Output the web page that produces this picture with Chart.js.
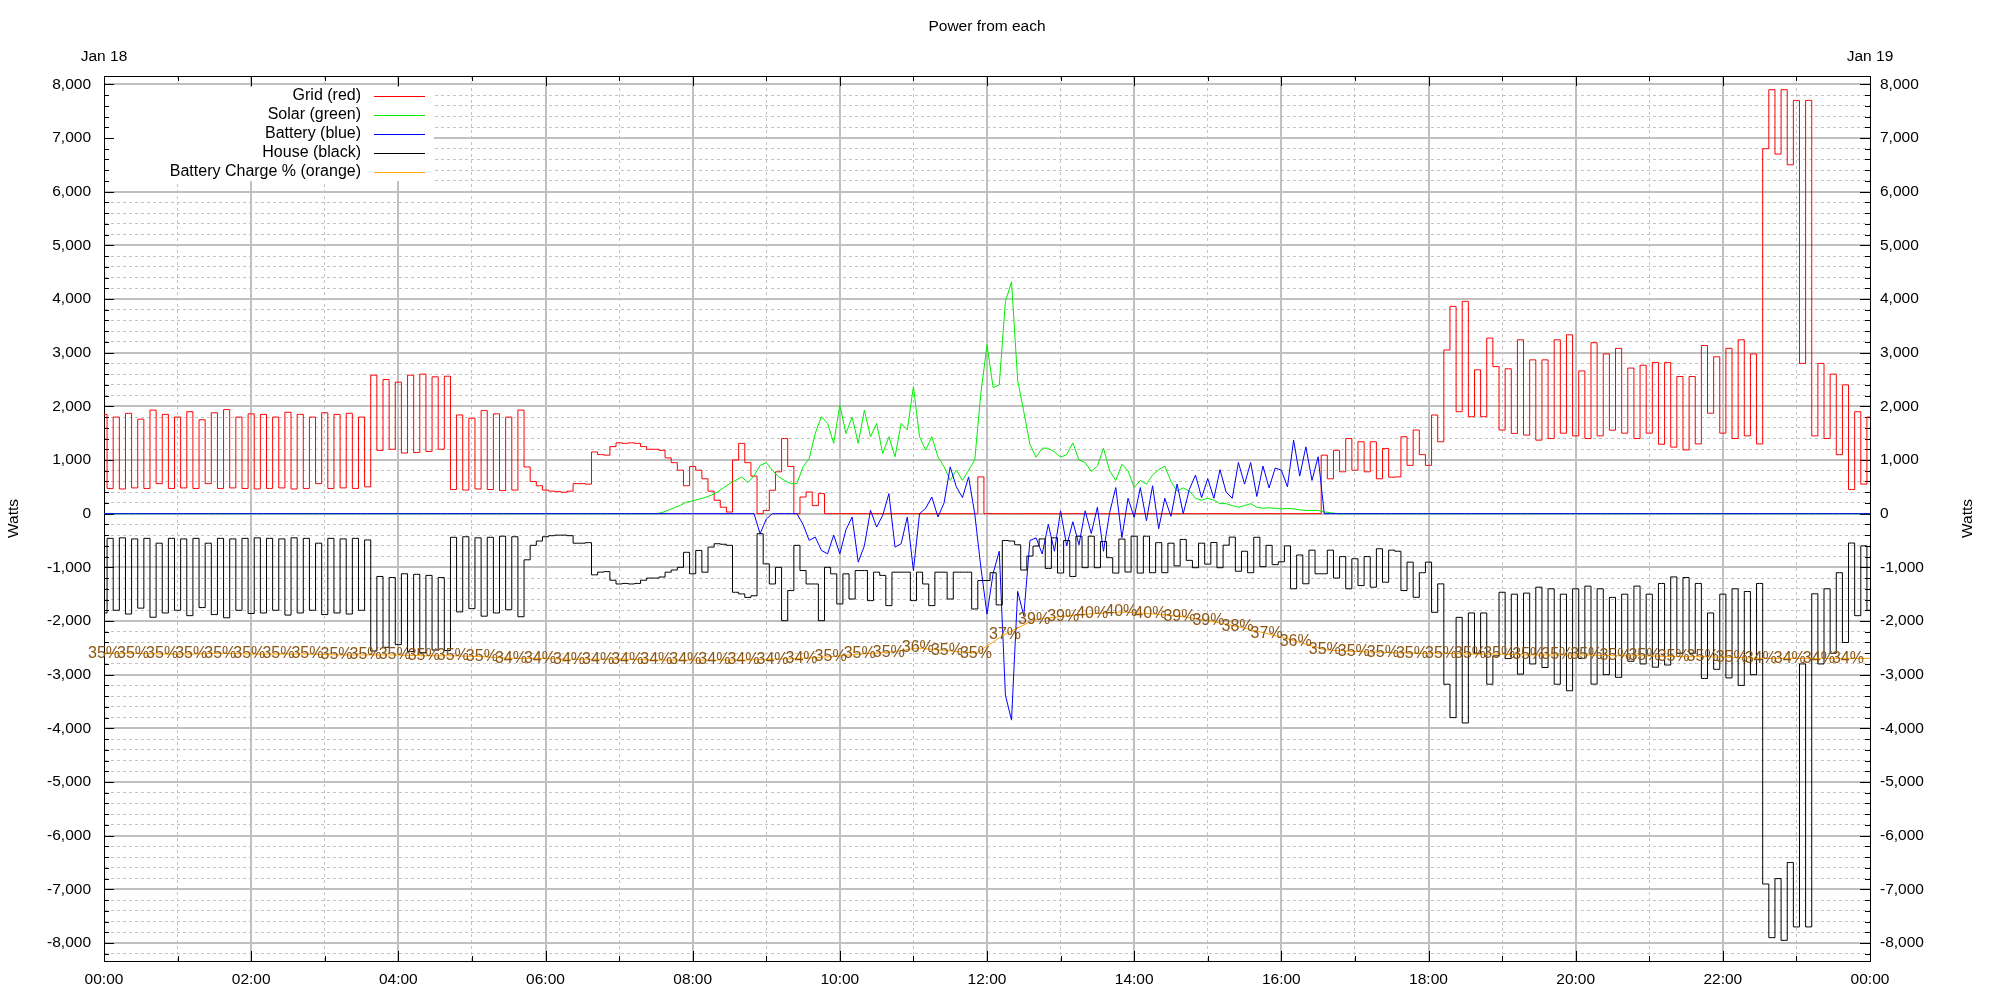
<!DOCTYPE html>
<html>
<head>
<meta charset="utf-8">
<title>Power from each</title>
<script src="https://cdn.jsdelivr.net/npm/chart.js@4/dist/chart.umd.min.js"></script>
<style>
  html, body { margin: 0; padding: 0; background: #fff; }
  canvas { display: block; }
</style>
</head>
<body>
<canvas id="myChart" width="2000" height="1000"></canvas>
<script>
// Power readings, one every 5 minutes from 00:00 Jan 18 to 00:00 Jan 19
// (one row per hour, last value is midnight)
const stepMin = 5

const gridW = [
  1850, 470, 1800, 460, 1870, 480, 1760, 470, 1930, 560, 1850, 470,
  1800, 480, 1900, 470, 1750, 560, 1880, 470, 1940, 480, 1800, 470,
  1860, 460, 1850, 470, 1800, 480, 1890, 460, 1850, 470, 1800, 560,
  1880, 470, 1850, 480, 1870, 470, 1800, 500, 2580, 1180, 2500, 1200,
  2450, 1130, 2580, 1140, 2600, 1160, 2550, 1200, 2560, 450, 1840, 440,
  1780, 460, 1920, 450, 1860, 430, 1800, 440, 1930, 870, 600, 520,
  440, 420, 410, 400, 420, 560, 560, 550, 1150, 1100, 1090, 1250,
  1320, 1310, 1320, 1310, 1250, 1200, 1200, 1180, 1040, 950, 810, 520,
  880, 810, 650, 420, 250, 120, 30, 1000, 1310, 950, 700, 0,
  60, 436, 780, 1400, 880, 0, 310, 405, 150, 374, 0, 0,
  0, 0, 0, 0, 0, 0, 0, 0, 0, 0, 0, 0,
  0, 0, 0, 0, 0, 0, 0, 0, 0, 0, 0, 685,
  0, 0, 0, 0, 0, 0, 0, 0, 0, 0, 0, 0,
  0, 0, 0, 0, 0, 0, 0, 0, 0, 0, 0, 0,
  0, 0, 0, 0, 0, 0, 0, 0, 0, 0, 0, 0,
  0, 0, 0, 0, 0, 0, 0, 0, 0, 0, 0, 0,
  0, 0, 0, 0, 0, 0, 0, 1090, 650, 1180, 780, 1400,
  810, 1340, 780, 1340, 650, 1215, 680, 685, 1433, 900, 1558, 1100,
  900, 1838, 1340, 3050, 3863, 1900, 3956, 1807, 2680, 1807, 3271, 2740,
  1558, 2700, 1495, 3240, 1464, 2866, 1370, 2866, 1400, 3240, 1500, 3333,
  1450, 2660, 1400, 3186, 1450, 2976, 1556, 3080, 1500, 2713, 1400, 2765,
  1500, 2818, 1293, 2818, 1240, 2555, 1188, 2555, 1300, 3133, 1872, 2923,
  1500, 3081, 1400, 3240, 1450, 2976, 1300, 6800, 7900, 6700, 7900, 6500,
  7700, 2800, 7700, 1450, 2800, 1400, 2600, 1100, 2400, 450, 1900, 550,
  1800
]

const solarW = [
  0, 0, 0, 0, 0, 0, 0, 0, 0, 0, 0, 0,
  0, 0, 0, 0, 0, 0, 0, 0, 0, 0, 0, 0,
  0, 0, 0, 0, 0, 0, 0, 0, 0, 0, 0, 0,
  0, 0, 0, 0, 0, 0, 0, 0, 0, 0, 0, 0,
  0, 0, 0, 0, 0, 0, 0, 0, 0, 0, 0, 0,
  0, 0, 0, 0, 0, 0, 0, 0, 0, 0, 0, 0,
  0, 0, 0, 0, 0, 0, 0, 0, 0, 0, 0, 0,
  0, 0, 0, 0, 0, 0, 0, 20, 62, 110, 156, 218,
  237, 270, 300, 343, 400, 480, 560, 620, 685, 580, 700, 900,
  950, 810, 685, 620, 560, 560, 872, 1028, 1500, 1807, 1682, 1310,
  2025, 1495, 1800, 1310, 1930, 1433, 1682, 1121, 1433, 1060, 1682, 1560,
  2368, 1433, 1184, 1433, 1060, 872, 620, 810, 620, 810, 1000, 2243,
  3146, 2350, 2400, 3950, 4320, 2487, 1900, 1290, 1053, 1220, 1220, 1150,
  1053, 1100, 1320, 1000, 953, 787, 887, 1220, 800, 620, 920, 800,
  487, 620, 550, 720, 820, 887, 600, 420, 480, 420, 287, 250,
  287, 250, 187, 187, 150, 120, 150, 187, 120, 100, 110, 100,
  87, 100, 90, 70, 60, 60, 60, 30, 20, 0, 0, 0,
  0, 0, 0, 0, 0, 0, 0, 0, 0, 0, 0, 0,
  0, 0, 0, 0, 0, 0, 0, 0, 0, 0, 0, 0,
  0, 0, 0, 0, 0, 0, 0, 0, 0, 0, 0, 0,
  0, 0, 0, 0, 0, 0, 0, 0, 0, 0, 0, 0,
  0, 0, 0, 0, 0, 0, 0, 0, 0, 0, 0, 0,
  0, 0, 0, 0, 0, 0, 0, 0, 0, 0, 0, 0,
  0, 0, 0, 0, 0, 0, 0, 0, 0, 0, 0, 0,
  0
]

const batteryW = [
  0, 0, 0, 0, 0, 0, 0, 0, 0, 0, 0, 0,
  0, 0, 0, 0, 0, 0, 0, 0, 0, 0, 0, 0,
  0, 0, 0, 0, 0, 0, 0, 0, 0, 0, 0, 0,
  0, 0, 0, 0, 0, 0, 0, 0, 0, 0, 0, 0,
  0, 0, 0, 0, 0, 0, 0, 0, 0, 0, 0, 0,
  0, 0, 0, 0, 0, 0, 0, 0, 0, 0, 0, 0,
  0, 0, 0, 0, 0, 0, 0, 0, 0, 0, 0, 0,
  0, 0, 0, 0, 0, 0, 0, 0, 0, 0, 0, 0,
  0, 0, 0, 0, 0, 0, 0, 0, 0, 0, 0, -374,
  -100, 0, 0, 0, 0, 0, -200, -498, -436, -685, -748, -400,
  -748, -300, -62, -903, -600, 62, -250, -30, 374, -623, -560, -62,
  -1060, 0, 100, 311, -62, 200, 872, 500, 300, 685, 0, -1000,
  -1870, -1113, -700, -3380, -3847, -1447, -1900, -500, -450, -750, -200, -700,
  53, -600, -150, -580, 53, -370, 120, -700, 20, 487, -447, 287,
  -67, 487, -130, 520, -280, 287, -50, 553, 0, 450, 720, 300,
  653, 287, 820, 400, 287, 953, 550, 953, 320, 887, 480, 850,
  810, 500, 1370, 700, 1246, 620, 1060, 0, 0, 0, 0, 0,
  0, 0, 0, 0, 0, 0, 0, 0, 0, 0, 0, 0,
  0, 0, 0, 0, 0, 0, 0, 0, 0, 0, 0, 0,
  0, 0, 0, 0, 0, 0, 0, 0, 0, 0, 0, 0,
  0, 0, 0, 0, 0, 0, 0, 0, 0, 0, 0, 0,
  0, 0, 0, 0, 0, 0, 0, 0, 0, 0, 0, 0,
  0, 0, 0, 0, 0, 0, 0, 0, 0, 0, 0, 0,
  0, 0, 0, 0, 0, 0, 0, 0, 0, 0, 0, 0,
  0
]

const houseW = [
  -1850, -460, -1800, -450, -1870, -470, -1760, -460, -1930, -550, -1850, -460,
  -1800, -470, -1900, -460, -1750, -550, -1880, -460, -1940, -470, -1800, -460,
  -1860, -450, -1850, -460, -1800, -470, -1890, -450, -1850, -460, -1800, -550,
  -1880, -460, -1850, -470, -1870, -460, -1800, -490, -2560, -1170, -2490, -1190,
  -2440, -1120, -2570, -1130, -2590, -1150, -2540, -1190, -2550, -440, -1830, -430,
  -1770, -450, -1910, -440, -1850, -420, -1790, -430, -1920, -860, -590, -510,
  -430, -410, -400, -400, -410, -550, -550, -540, -1140, -1090, -1080, -1240,
  -1310, -1300, -1310, -1300, -1240, -1200, -1200, -1180, -1090, -1050, -1000, -720,
  -1120, -685, -1090, -623, -560, -570, -590, -1465, -1495, -1560, -1530, -374,
  -935, -1310, -1000, -1994, -1433, -590, -1060, -1310, -1310, -1994, -1000, -1121,
  -1682, -1121, -1590, -1060, -1060, -1620, -1090, -1150, -1713, -1090, -1090, -1090,
  -1620, -1090, -1310, -1713, -1090, -1090, -1590, -1090, -1090, -1090, -1776, -1246,
  -1246, -1100, -1700, -500, -510, -580, -1050, -790, -603, -470, -1020, -450,
  -1106, -500, -1170, -420, -1006, -420, -1007, -520, -820, -1107, -473, -1087,
  -420, -1107, -420, -1100, -540, -1100, -550, -973, -480, -870, -1007, -550,
  -940, -537, -1007, -587, -437, -1073, -700, -1100, -440, -987, -590, -950,
  -897, -600, -1400, -770, -1306, -680, -1120, -1120, -680, -1200, -800, -1400,
  -840, -1340, -800, -1370, -654, -1277, -680, -700, -1433, -903, -1558, -1100,
  -903, -1838, -1308, -3178, -3800, -1932, -3900, -1850, -2600, -1850, -3178, -2650,
  -1464, -2700, -1500, -2990, -1480, -2800, -1370, -2866, -1400, -3178, -1500, -3300,
  -1400, -2700, -1350, -3176, -1400, -3000, -1560, -3050, -1500, -2750, -1350, -2800,
  -1500, -2860, -1300, -2820, -1178, -2600, -1190, -2600, -1300, -3070, -1850, -2900,
  -1500, -3060, -1400, -3200, -1450, -3000, -1300, -6900, -7900, -6800, -7950, -6500,
  -7700, -2800, -7700, -1493, -2800, -1400, -2600, -1100, -2400, -547, -1900, -600,
  -1800
]

// battery charge %, one reading about every 23.7 minutes (last one at midnight, no label)
const chargeStepMin = 23.7
const chargePct = [
  35.0, 35.0, 34.9, 34.9, 35.0, 34.9, 34.9, 34.9, 34.8, 34.8, 34.8, 34.7, 34.7, 34.6,
  34.4, 34.4, 34.3, 34.3, 34.3, 34.2, 34.2, 34.2, 34.2, 34.3, 34.4,
  34.6, 34.9, 35.1, 35.6, 35.3, 35.0,
  37.2, 38.9, 39.3, 39.6, 39.8, 39.6, 39.3, 38.8, 38.1, 37.3, 36.4,
  35.4, 35.2, 35.1, 35.0, 35.0, 34.9, 34.9, 34.8, 34.8, 34.8, 34.7, 34.7, 34.6, 34.6, 34.5,
  34.4, 34.4, 34.4, 34.4, 34.4
]

const seriesNames = ["Grid (red)", "Solar (green)", "Battery (blue)", "House (black)", "Battery Charge % (orange)"]
const seriesColors = ["#ff0000", "#00ee00", "#0000ff", "#000000", "#ffa500"]
const timeLabels = ["00:00", "02:00", "04:00", "06:00", "08:00", "10:00", "12:00",
                    "14:00", "16:00", "18:00", "20:00", "22:00", "00:00"]
const dateLabels = ["Jan 18", "Jan 19"]
const chartTitle = "Power from each"
const yTitle = "Watts"

// axis limits (watts), the % curve is drawn on a hidden axis lined up with it
const yMin = -8335
const yMax = 8155
const pctMin = (yMin + 8200) / 160
const pctMax = (yMax + 8200) / 160

const FONT = "'Liberation Sans', Arial, sans-serif"
Chart.defaults.font.family = FONT
Chart.defaults.font.size = 15.5
Chart.defaults.color = "#000"

function serie(values) {
  return values.map((v, k) => ({x: k * stepMin, y: v}))
}

const isMajorY = c => c.tick && c.tick.value % 1000 === 0
const isMajorX = c => c.tick && c.tick.value % 120 === 0

const decor = {
  id: "decor",
  beforeDatasetsDraw(chart) {
    const {ctx, chartArea: a, scales} = chart
    ctx.save()
    // opaque key box
    ctx.fillStyle = "#fff"
    ctx.fillRect(a.left + 1, 87, 433 - a.left, 94)

    // inward tick marks on all four sides
    ctx.strokeStyle = "#000"
    ctx.lineWidth = 1
    ctx.beginPath()
    scales.y.ticks.forEach(t => {
      const y = Math.round(scales.y.getPixelForValue(t.value)) + 0.5
      const len = t.value % 1000 === 0 ? 10 : 5
      ctx.moveTo(a.left, y); ctx.lineTo(a.left + len, y)
      ctx.moveTo(a.right, y); ctx.lineTo(a.right - len, y)
    })
    scales.x.ticks.forEach(t => {
      const x = Math.round(scales.x.getPixelForValue(t.value)) + 0.5
      const len = t.value % 120 === 0 ? 10 : 5
      ctx.moveTo(x, a.bottom); ctx.lineTo(x, a.bottom - len)
      ctx.moveTo(x, a.top); ctx.lineTo(x, a.top + len)
    })
    ctx.stroke()

    // key
    ctx.font = "16px " + FONT
    ctx.textAlign = "right"
    ctx.textBaseline = "middle"
    chart.data.datasets.forEach((ds, k) => {
      const y = 96 + k * 19
      ctx.fillStyle = "#000"
      ctx.fillText(ds.label, 361, y)
      ctx.strokeStyle = ds.borderColor
      ctx.beginPath()
      ctx.moveTo(374, Math.round(y) + 0.5)
      ctx.lineTo(425, Math.round(y) + 0.5)
      ctx.stroke()
    })
    ctx.restore()
  },
  afterDatasetsDraw(chart) {
    // battery % labels on each reading
    const {ctx} = chart
    const meta = chart.getDatasetMeta(4)
    ctx.save()
    ctx.font = "16px " + FONT
    ctx.fillStyle = "#8b5514"
    ctx.textAlign = "center"
    ctx.textBaseline = "middle"
    meta.data.forEach((pt, k) => {
      if (k === meta.data.length - 1) return
      ctx.fillText(Math.round(chargePct[k]) + "%", pt.x, pt.y)
    })
    ctx.restore()
  },
  afterDraw(chart) {
    const {ctx, chartArea: a} = chart
    ctx.save()
    ctx.fillStyle = "#000"
    ctx.font = "15.5px " + FONT
    ctx.textAlign = "center"
    ctx.textBaseline = "middle"
    ctx.fillText(chartTitle, (a.left + a.right) / 2, 27)
    // right axis title, reads bottom to top like the left one
    ctx.translate(1968, (a.top + a.bottom) / 2)
    ctx.rotate(-Math.PI / 2)
    ctx.fillText(yTitle, 0, 0)
    ctx.restore()
  }
}

const yTicks = {
  stepSize: 200,
  maxTicksLimit: 200,
  includeBounds: false,
  autoSkip: false,
  callback: v => v % 1000 === 0 ? v.toLocaleString("en-US") : ""
}

let ctx = document.getElementById("myChart").getContext("2d")

let myChart = new Chart(ctx, {
  type: "line",
  data: {
    datasets: [
      {label: seriesNames[0], data: serie(gridW), borderColor: seriesColors[0], stepped: "middle", order: 5},
      {label: seriesNames[1], data: serie(solarW), borderColor: seriesColors[1], order: 4},
      {label: seriesNames[2], data: serie(batteryW), borderColor: seriesColors[2], order: 3},
      {label: seriesNames[3], data: serie(houseW), borderColor: seriesColors[3], stepped: "middle", order: 2},
      {
        label: seriesNames[4],
        data: chargePct.map((v, k) => ({x: Math.min(k * chargeStepMin, 1440), y: v})),
        borderColor: seriesColors[4],
        yAxisID: "yPct",
        order: 1
      }
    ]
  },
  options: {
    responsive: false,
    animation: false,
    events: [],
    layout: {padding: 0},
    elements: {
      point: {radius: 0},
      line: {borderWidth: 1, tension: 0, fill: false}
    },
    plugins: {
      legend: {display: false},
      tooltip: {enabled: false}
    },
    scales: {
      x: {
        type: "linear",
        position: "bottom",
        min: 0,
        max: 1440,
        ticks: {
          stepSize: 60,
          autoSkip: false,
          maxRotation: 0,
          padding: 9,
          callback: v => v % 120 === 0 ? timeLabels[v / 120] : ""
        },
        grid: {
          drawTicks: false,
          color: c => (c.tick && (c.tick.value === 0 || c.tick.value === 1440)) ? "rgba(0,0,0,0)" :
                      (isMajorX(c) ? "#c0c0c0" : "#c4c4c4"),
          lineWidth: c => isMajorX(c) ? 2 : 1
        },
        border: {color: "#000", width: 1, dash: c => (c.tick && !isMajorX(c)) ? [3, 3] : []},
        afterFit: s => { s.height = 39 }
      },
      xTop: {
        type: "linear",
        position: "top",
        min: 0,
        max: 1440,
        ticks: {
          stepSize: 1440,
          autoSkip: false,
          maxRotation: 0,
          padding: 10,
          callback: v => dateLabels[v / 1440]
        },
        grid: {drawOnChartArea: false, drawTicks: false},
        border: {color: "#000", width: 1},
        afterFit: s => { s.height = 76 }
      },
      y: {
        type: "linear",
        position: "left",
        min: yMin,
        max: yMax,
        ticks: Object.assign({padding: 13}, yTicks),
        grid: {
          drawTicks: false,
          color: c => isMajorY(c) ? "#c0c0c0" : "#c4c4c4",
          lineWidth: c => isMajorY(c) ? 2 : 1
        },
        border: {color: "#000", width: 1, dash: c => (c.tick && !isMajorY(c)) ? [3, 3] : []},
        title: {display: true, text: yTitle, padding: {top: 4.7, bottom: 0}},
        afterFit: s => { s.width = 104 }
      },
      yR: {
        type: "linear",
        position: "right",
        min: yMin,
        max: yMax,
        ticks: Object.assign({padding: 10}, yTicks),
        grid: {drawOnChartArea: false, drawTicks: false},
        border: {color: "#000", width: 1},
        afterFit: s => { s.width = 130 }
      },
      yPct: {
        display: false,
        min: pctMin,
        max: pctMax
      }
    }
  },
  plugins: [decor]
})
</script>
</body>
</html>
